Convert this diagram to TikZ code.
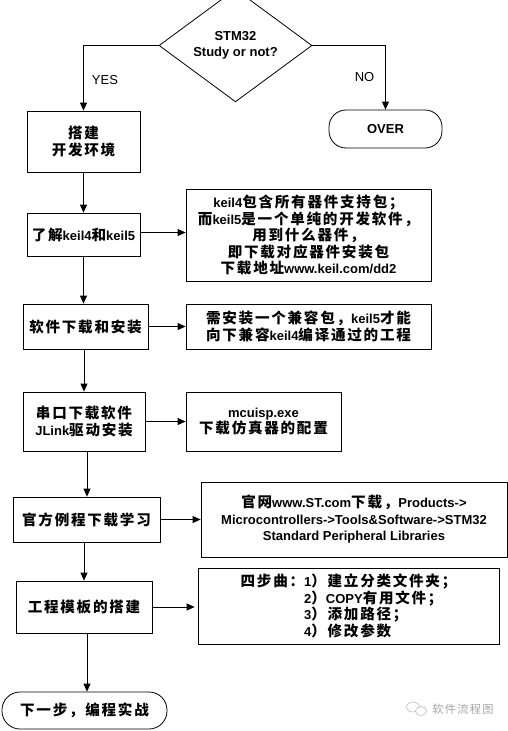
\documentclass[tikz,border=0pt]{standalone}
\usepackage{fontspec}
\setmainfont{Liberation Sans}
\newfontfamily\cjk{Noto Sans CJK SC}[Scale=1.12,LetterSpace=12]
\usetikzlibrary{shapes.geometric,arrows.meta}
\newcommand{\C}[1]{{\cjk #1}}
\begin{document}
\begin{tikzpicture}[x=1pt,y=-1pt,
 every node/.style={font=\fontsize{13}{16.5}\selectfont\bfseries, inner sep=0pt, align=center},
 box/.style={draw, line width=0.8pt, rectangle},
 term/.style={draw, line width=0.8pt, rounded corners=17pt},
 dec/.style={draw, diamond, line width=0.8pt},
 arr/.style={-{Triangle[length=8pt,width=7pt]}, line width=0.8pt},
 lbl/.style={font=\fontsize{13}{15}\selectfont}
]
\useasboundingbox (0,0) rectangle (508,731);
\fill[white] (0,0) rectangle (508,731);

\node[dec, minimum width=153pt, minimum height=87pt] (d) at (235.5,45.5) {STM32\\Study or not?};
\node[term, minimum width=113pt, minimum height=38pt] (over) at (385.5,129) {OVER};
\node[box, minimum width=113pt, minimum height=61pt] (b1) at (83.5,141.5) {\C{搭建}\\\C{开发环境}};
\node[box, minimum width=113pt, minimum height=43pt] (b2) at (83.5,234.5) {\C{了解}keil4\C{和}keil5};
\node[box, minimum width=245pt, minimum height=92pt] (rA) at (308.5,235)
 {keil4\C{包含所有器件支持包；}\\\C{而}keil5\C{是一个单纯的开发软件，}\\\C{用到什么器件，}\\\C{即下载对应器件安装包}\\\C{下载地址}www.keil.com/dd2};
\node[box, minimum width=125pt, minimum height=45pt] (b3) at (85.5,326.5) {\C{软件下载和安装}};
\node[box, minimum width=245pt, minimum height=45pt] (rB) at (308.5,326.5)
 {\C{需安装一个兼容包，}keil5\C{才能}\\\C{向下兼容}keil4\C{编译通过的工程}};
\node[box, minimum width=122pt, minimum height=59pt] (b4) at (84,421.5) {\C{串口下载软件}\\JLink\C{驱动安装}};
\node[box, minimum width=155pt, minimum height=59pt] (rC) at (263.5,421.5) {mcuisp.exe\\\C{下载仿真器的配置}};
\node[box, minimum width=147pt, minimum height=45pt] (b5) at (86.5,519.5) {\C{官方例程下载学习}};
\node[box, minimum width=306pt, minimum height=75pt] (rD) at (354,519.5)
 {\C{官网}www.ST.com\C{下载，}Products->\\Microcontrollers->Tools\&Software->STM32\\Standard Peripheral Libraries};
\node[box, minimum width=136pt, minimum height=52pt] (b6) at (84,607) {\C{工程模板的搭建}};
\node[box, minimum width=301pt, minimum height=76pt, align=left] (rE) at (348.5,606)
 {\C{四步曲：}1\C{）建立分类文件夹；}\\\phantom{\C{四步曲：}}2\C{）}COPY\C{有用文件；}\\\phantom{\C{四步曲：}}3\C{）添加路径；}\\\phantom{\C{四步曲：}}4\C{）修改参数}};
\node[term, rounded corners=18pt, minimum width=165pt, minimum height=37pt] (end) at (84.5,710.5) {\C{下一步，编程实战}};

\node[lbl] (yes) at (105,80) {YES};
\node[lbl] (no) at (364.5,77) {NO};

\draw[arr] (d.west) -| (b1.north);
\draw[arr] (d.east) -| (over.north);
\draw[arr] (b1.south) -- (b2.north);
\draw[arr] (b2.south) -- (b2.south |- b3.north);
\draw[arr] (b3.south -| b4.north) -- (b4.north);
\draw[arr] ([xshift=3pt]b4.south) -- ([xshift=3pt]b4.south |- b5.north);
\draw[arr] (b6.north |- b5.south) -- (b6.north);
\draw[arr] ([xshift=3pt]b6.south) -- ([xshift=3pt]b6.south |- end.north);

\draw[arr] ([yshift=2pt]b2.east) -- ([yshift=2pt]b2.east -| rA.west);
\draw[arr] (b3.east) -- (b3.east -| rB.west);
\draw[arr] (b4.east) -- (b4.east -| rC.west);
\draw[arr] (b5.east) -- (b5.east -| rD.west);
\draw[arr, shorten >=3pt] (b6.east) -- (b6.east -| rE.west);

\draw[gray!55, line width=0.6pt] (413,707) ellipse [x radius=6.5pt, y radius=5pt];
\draw[gray!55, line width=0.6pt, fill=white] (421,711) ellipse [x radius=5.5pt, y radius=4.5pt];
\node[font=\fontsize{10}{12}\selectfont, text=gray!70] (wm) at (463,709) {\C{软件流程图}};
\end{tikzpicture}
\end{document}
